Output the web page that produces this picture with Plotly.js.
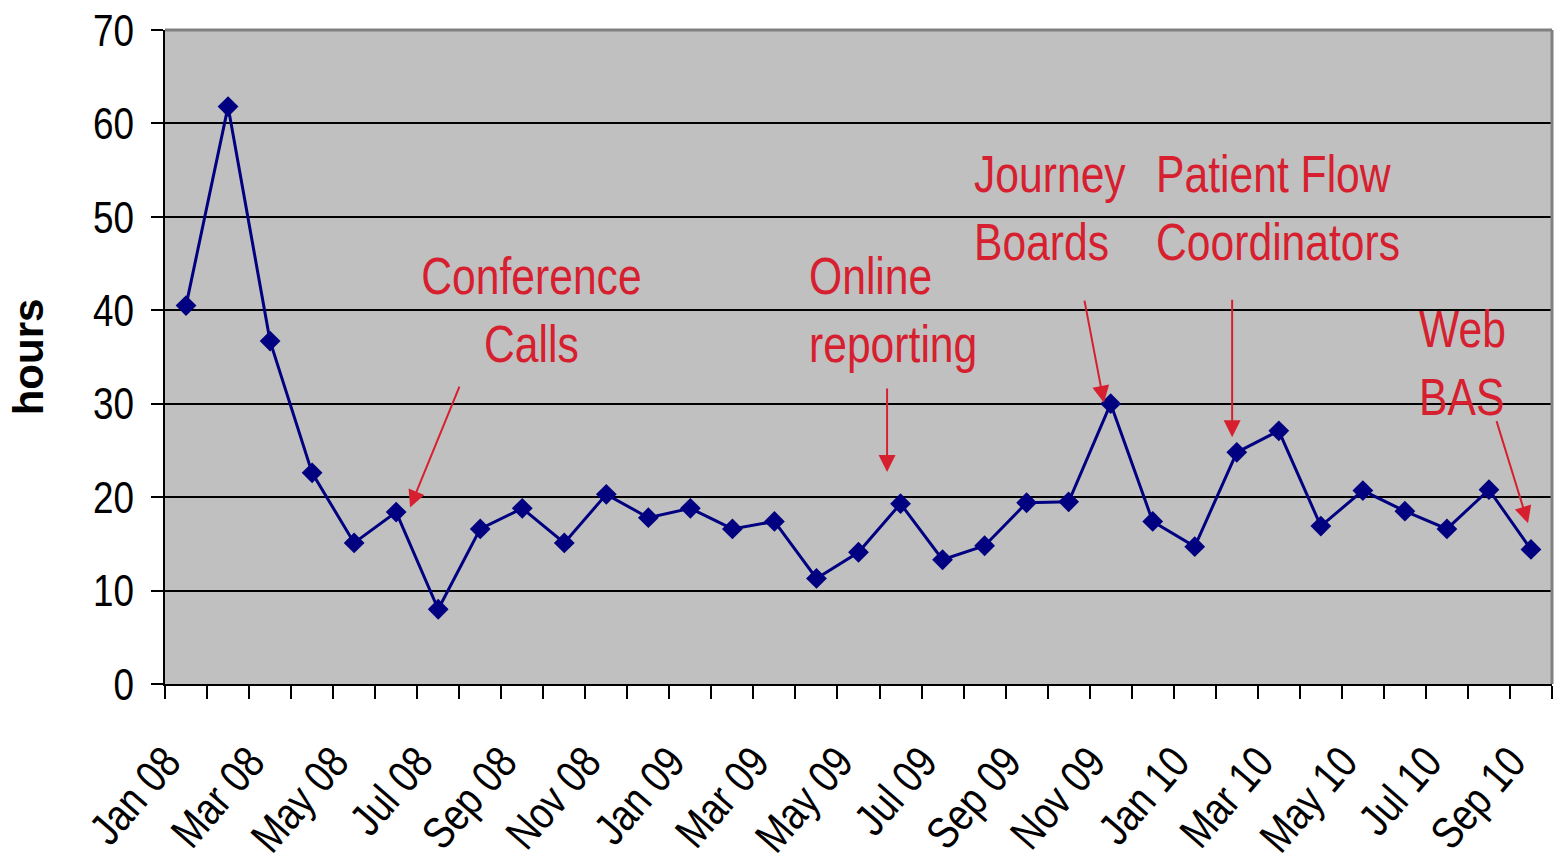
<!DOCTYPE html>
<html>
<head>
<meta charset="utf-8">
<script src="https://cdn.plot.ly/plotly-3.0.1.min.js"></script>
<style>
  html, body { margin: 0; padding: 0; background: #ffffff; }
  #chart { width: 1557px; height: 867px; }
</style>
</head>
<body>
<div id="chart"></div>
<script>
// ---- data ----
const months = [
  "Jan 08","Feb 08","Mar 08","Apr 08","May 08","Jun 08","Jul 08","Aug 08","Sep 08","Oct 08","Nov 08","Dec 08",
  "Jan 09","Feb 09","Mar 09","Apr 09","May 09","Jun 09","Jul 09","Aug 09","Sep 09","Oct 09","Nov 09","Dec 09",
  "Jan 10","Feb 10","Mar 10","Apr 10","May 10","Jun 10","Jul 10","Aug 10","Sep 10"
];
const hours = [
  40.5, 61.8, 36.7, 22.6, 15.1, 18.4, 8.0, 16.6, 18.8, 15.1, 20.3, 17.8,
  18.8, 16.6, 17.4, 11.3, 14.1, 19.3, 13.3, 14.8, 19.4, 19.5, 30.0, 17.4,
  14.7, 24.8, 27.1, 16.9, 20.7, 18.5, 16.6, 20.8, 14.4
];
const yTicks = [0, 10, 20, 30, 40, 50, 60, 70];

// events: label, where the note sits, arrow tail/tip (month index, hours)
const eventLabels = ["Conference<br>Calls", "Online<br>reporting", "Journey<br>Boards", "Patient Flow<br>Coordinators", "Web<br>BAS"];
const eventTextX  = [8.23, 14.78, 18.70, 23.03, 29.29];
const eventTextY  = [40.0, 40.0, 51.0, 51.0, 34.4];
const eventAlign  = ["center", "left", "left", "left", "left"];
const arrowTailX  = [6.52, 16.68, 21.37, 24.89, 31.17];
const arrowTailY  = [32.0, 31.8, 41.2, 41.3, 28.3];
const arrowTipX   = [5.33, 16.68, 21.84, 24.89, 31.93];
const arrowTipY   = [18.9, 22.7, 30.1, 26.4, 17.2];

// ---- derived ----
const xIdx = months.map((_, i) => i);
const tickIdx = xIdx.filter(i => i % 2 === 0);
const tickText = tickIdx.map(i => months[i]);

const FONT = '"Liberation Sans", Arial, sans-serif';
const RED = '#D7202F';

const trace = {
  x: xIdx,
  y: hours,
  type: 'scatter',
  mode: 'lines+markers',
  line: { color: '#000080', width: 3 },
  marker: { symbol: 'diamond', size: 16, color: '#000080' },
  hoverinfo: 'skip',
  showlegend: false
};

const annotations = [];
eventLabels.forEach((t, k) => {
  annotations.push({
    x: eventTextX[k], y: eventTextY[k], xref: 'x', yref: 'y',
    text: t, showarrow: false,
    xanchor: eventAlign[k] === 'center' ? 'center' : 'left',
    yanchor: 'middle', align: eventAlign[k],
    font: { family: FONT, size: 52, color: RED }
  });
  annotations.push({
    x: arrowTipX[k], y: arrowTipY[k], ax: arrowTailX[k], ay: arrowTailY[k],
    xref: 'x', yref: 'y', axref: 'x', ayref: 'y',
    text: '', showarrow: true, arrowhead: 2, arrowsize: 1.7, arrowwidth: 2,
    arrowcolor: RED, standoff: 0
  });
});

const layout = {
  width: 1557, height: 867,
  margin: { l: 165, r: 5, t: 30, b: 183 },
  paper_bgcolor: '#ffffff',
  plot_bgcolor: '#C0C0C0',
  xaxis: {
    type: 'linear',
    range: [-0.5, months.length - 0.5],
    tickmode: 'array', tickvals: tickIdx, ticktext: tickText,
    ticks: '', tickangle: -49,
    ticklabelstandoff: 36,
    tickfont: { family: FONT, size: 45, color: '#000000' },
    showgrid: false, zeroline: false,
    showline: true, linecolor: '#000000', linewidth: 2,
    minor: { tick0: -0.5, dtick: 1, ticks: 'outside', ticklen: 13, tickwidth: 2, tickcolor: '#000000', showgrid: false },
    fixedrange: true
  },
  yaxis: {
    range: [0, 70],
    tickmode: 'array', tickvals: yTicks,
    ticks: 'outside', ticklen: 12, tickwidth: 2, tickcolor: '#000000',
    ticklabelstandoff: 8,
    tickfont: { family: FONT, size: 45, color: '#000000' },
    showgrid: true, gridcolor: '#000000', gridwidth: 2,
    zeroline: false,
    showline: true, linecolor: '#000000', linewidth: 2,
    title: { text: '<b>hours</b>', font: { family: FONT, size: 42, color: '#000000' }, standoff: 27 },
    fixedrange: true
  },
  shapes: [
    { type: 'line', xref: 'paper', yref: 'paper', x0: 0, x1: 1, y0: 1, y1: 1, line: { color: '#808080', width: 3 }, layer: 'above' },
    { type: 'line', xref: 'paper', yref: 'paper', x0: 1, x1: 1, y0: 0, y1: 1, line: { color: '#808080', width: 3 }, layer: 'above' }
  ],
  annotations: annotations
};

// narrow the Arial-like glyphs horizontally (the original uses a condensed face)
function condense(gd) {
  const s = 0.82;
  gd.querySelectorAll('.xtick text, .ytick text, text.annotation-text').forEach(t => {
    const x = parseFloat(t.getAttribute('x')) || 0;
    let extra = 'translate(' + x + ',0) scale(' + s + ',1) translate(' + (-x) + ',0)';
    if (t.closest('.xtick')) extra += ' translate(-12,-18)';
    const ex = t.getAttribute('transform') || '';
    t.setAttribute('transform', (ex + ' ' + extra).trim());
  });
}

Plotly.newPlot('chart', [trace], layout, { displayModeBar: false, staticPlot: true })
  .then(gd => condense(gd));
</script>
</body>
</html>
